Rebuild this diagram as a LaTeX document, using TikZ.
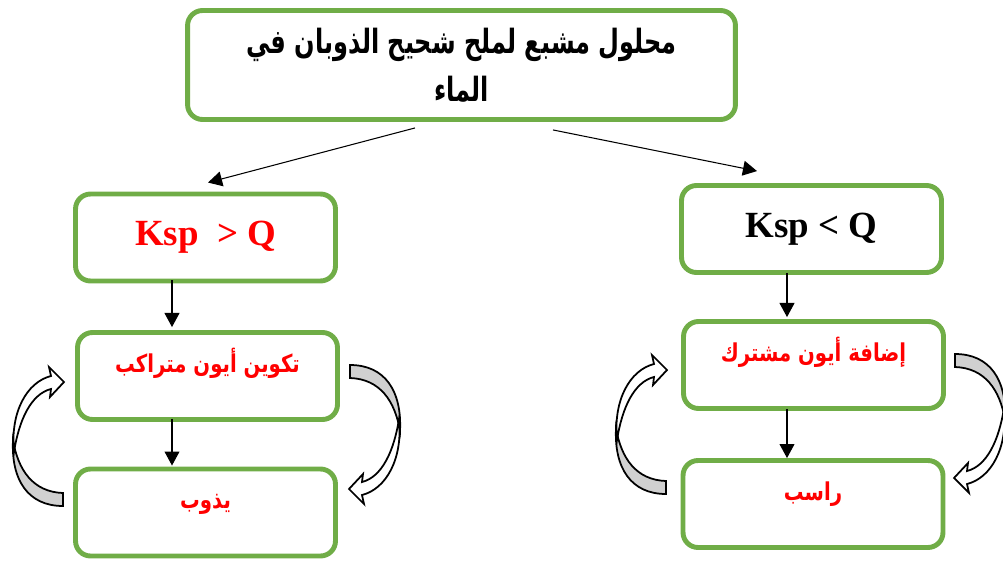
\documentclass[tikz,border=0pt]{standalone}
\usepackage{fontspec}
\setmainfont{Liberation Serif}
\newfontfamily\arabicfont[Script=Arabic, FakeStretch=0.8]{DejaVu Sans}
\newfontfamily\arabictitle[Script=Arabic, FakeStretch=0.72]{DejaVu Sans}
\TeXXeTstate=1
\usetikzlibrary{arrows.meta}
\definecolor{boxgreen}{HTML}{70AD47}
\definecolor{curlgray}{HTML}{D0D0D0}
\tikzset{
  box/.style={draw=boxgreen, line width=2.8pt, rounded corners=0.3cm, fill=white,
    minimum width=5.2cm, minimum height=1.74cm, inner sep=0pt, align=center},
  ksptxt/.style={font=\fontsize{21}{25}\selectfont\bfseries},
  artxt/.style={text=red, font=\arabicfont\fontsize{14}{17}\selectfont\bfseries,
    text height=10pt, text depth=14.4pt},
  arr/.style={-{Triangle[length=8pt,width=8.5pt]}, line width=0.6pt},
  curl/.pic={
    \filldraw[fill=curlgray, line width=1pt]
      (0,53) .. controls (-30,52) and (-45,30) .. (-50,0)
      .. controls (-52,40) and (-35,66) .. (0,66) -- cycle;
    \filldraw[fill=white, line width=1pt]
      (-49,12) .. controls (-53,-28) and (-36,-58) .. (-12,-64)
      -- (-14,-73) -- (1,-58) -- (-13,-43) -- (-12,-51)
      .. controls (-32,-46) and (-44,-20) .. cycle;
  }
}
\begin{document}
\begin{tikzpicture}[x=0.02cm, y=-0.02cm]
    \useasboundingbox (0,0) rectangle (1003,561);
    % top box
    \node[box, minimum width=10.96cm, minimum height=2.18cm,
      font=\arabictitle\fontsize{19}{27}\selectfont\bfseries] (top) at (461.5,65)
      {\beginR محلول مشبع لملح شحيح الذوبان في\endR\\ \beginR الماء\endR};
    % left column
    \node[box, ksptxt, text=red] (kspl) at (205.5,237.5) {Ksp\ \ > Q};
    \node[box, artxt] (comp) at (207.5,376) {\beginR تكوين أيون متراكب\endR};
    \node[box, artxt] (diss) at (205.5,512.5) {\beginR يذوب\endR};
    % right column
    \node[box, ksptxt] (kspr) at (811.5,229) {Ksp < Q};
    \node[box, artxt] (comm) at (813.5,365) {\beginR إضافة أيون مشترك\endR};
    \node[box, artxt] (prec) at (813,504) {\beginR راسب\endR};
    % arrows
    \draw[arr] ([shift={(-46.5,6)}]top.south) -- ([shift={(2.5,-9)}]kspl.north);
    \draw[arr] ([shift={(91.5,8)}]top.south) -- ([shift={(-54.5,-12)}]kspr.north);
    \draw[arr] ([shift={(-33.5,-3)}]kspl.south) -- ([shift={(-35.5,-3)}]comp.north);
    \draw[arr] ([shift={(-35.5,-3)}]comp.south) -- ([shift={(-33.5,-1)}]diss.north);
    \draw[arr] ([shift={(-24.5,-2)}]kspr.south) -- ([shift={(-26.5,-2)}]comm.north);
    \draw[arr] ([shift={(-26.5,-2)}]comm.south) -- ([shift={(-26,0)}]prec.north);
    % curved arrows
    \pic at (63,440) {curl};
    \pic[rotate=180] at (350,431) {curl};
    \pic at (666,428) {curl};
    \pic[rotate=180] at (955,420) {curl};
\end{tikzpicture}
\end{document}
